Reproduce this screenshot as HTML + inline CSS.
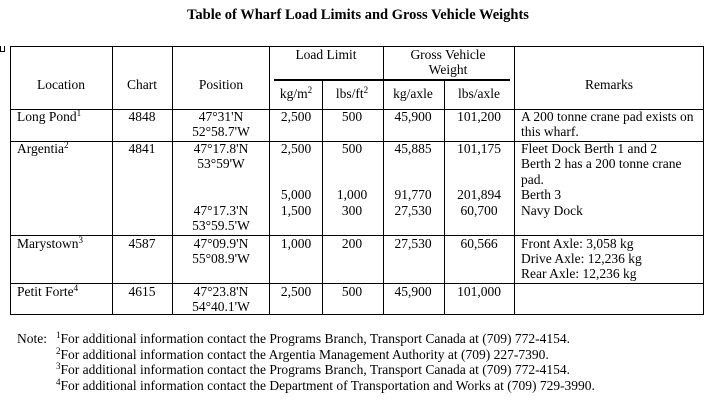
<!DOCTYPE html>
<html><head><meta charset="utf-8"><style>
body{margin:0;width:716px;height:401px;background:#fff;position:relative;overflow:hidden;font-family:"Liberation Serif",serif;font-size:13.5px;color:#000}
.t{position:absolute;line-height:16px;white-space:nowrap}
.c{transform:translateX(-50%)}
.h{position:absolute;height:1px;background:#000}
.v{position:absolute;width:1px;background:#000}
sup{font-size:9px;vertical-align:baseline;position:relative;top:-5px}
</style></head><body>
<div class="t c" style="left:358px;top:7px;font-weight:bold;font-size:14.5px">Table of Wharf Load Limits and Gross Vehicle Weights</div>
<div style="position:absolute;left:0;top:46px;width:3px;height:5px;border:1px solid #000;border-top:none"></div>
<div class="h" style="left:10px;top:46px;width:694px"></div>
<div class="h" style="left:10px;top:109px;width:694px"></div>
<div class="h" style="left:10px;top:141px;width:694px"></div>
<div class="h" style="left:10px;top:235px;width:694px"></div>
<div class="h" style="left:10px;top:283px;width:694px"></div>
<div class="h" style="left:10px;top:314px;width:694px"></div>
<div class="h" style="left:274px;top:79px;width:236px;height:2px"></div>
<div class="v" style="left:10px;top:46px;height:269px"></div>
<div class="v" style="left:112px;top:46px;height:269px"></div>
<div class="v" style="left:172px;top:46px;height:269px"></div>
<div class="v" style="left:269px;top:46px;height:269px"></div>
<div class="v" style="left:322px;top:81px;height:234px"></div>
<div class="v" style="left:383px;top:81px;height:234px"></div>
<div class="v" style="left:383px;top:46px;height:34px"></div>
<div class="v" style="left:444px;top:81px;height:234px"></div>
<div class="v" style="left:514px;top:46px;height:269px"></div>
<div class="v" style="left:703px;top:46px;height:269px"></div>
<div class="t c" style="left:61px;top:77px">Location</div>
<div class="t c" style="left:142px;top:77px">Chart</div>
<div class="t c" style="left:221px;top:77px">Position</div>
<div class="t c" style="left:326px;top:47px">Load Limit</div>
<div class="t c" style="left:448px;top:47px">Gross Vehicle</div>
<div class="t c" style="left:448px;top:62px">Weight</div>
<div class="t c" style="left:296px;top:86px">kg/m<sup>2</sup></div>
<div class="t c" style="left:352px;top:86px">lbs/ft<sup>2</sup></div>
<div class="t c" style="left:413px;top:86px">kg/axle</div>
<div class="t c" style="left:479px;top:86px">lbs/axle</div>
<div class="t c" style="left:609px;top:77px">Remarks</div>
<div class="t" style="left:17px;top:109px">Long Pond<sup>1</sup></div>
<div class="t c" style="left:142px;top:109px">4848</div>
<div class="t c" style="left:221px;top:109px">47°31'N</div>
<div class="t c" style="left:221px;top:124px">52°58.7'W</div>
<div class="t c" style="left:296px;top:109px">2,500</div>
<div class="t c" style="left:352px;top:109px">500</div>
<div class="t c" style="left:413px;top:109px">45,900</div>
<div class="t c" style="left:479px;top:109px">101,200</div>
<div class="t" style="left:521px;top:109px">A 200 tonne crane pad exists on</div>
<div class="t" style="left:521px;top:124px">this wharf.</div>
<div class="t" style="left:17px;top:141px">Argentia<sup>2</sup></div>
<div class="t c" style="left:142px;top:141px">4841</div>
<div class="t c" style="left:221px;top:141px">47°17.8'N</div>
<div class="t c" style="left:221px;top:156px">53°59'W</div>
<div class="t c" style="left:296px;top:141px">2,500</div>
<div class="t c" style="left:352px;top:141px">500</div>
<div class="t c" style="left:413px;top:141px">45,885</div>
<div class="t c" style="left:479px;top:141px">101,175</div>
<div class="t" style="left:521px;top:141px">Fleet Dock Berth 1 and 2</div>
<div class="t" style="left:521px;top:156px">Berth 2 has a 200 tonne crane</div>
<div class="t" style="left:521px;top:172px">pad.</div>
<div class="t c" style="left:296px;top:187px">5,000</div>
<div class="t c" style="left:352px;top:187px">1,000</div>
<div class="t c" style="left:413px;top:187px">91,770</div>
<div class="t c" style="left:479px;top:187px">201,894</div>
<div class="t" style="left:521px;top:187px">Berth 3</div>
<div class="t c" style="left:221px;top:203px">47°17.3'N</div>
<div class="t c" style="left:221px;top:218px">53°59.5'W</div>
<div class="t c" style="left:296px;top:203px">1,500</div>
<div class="t c" style="left:352px;top:203px">300</div>
<div class="t c" style="left:413px;top:203px">27,530</div>
<div class="t c" style="left:479px;top:203px">60,700</div>
<div class="t" style="left:521px;top:203px">Navy Dock</div>
<div class="t" style="left:17px;top:236px">Marystown<sup>3</sup></div>
<div class="t c" style="left:142px;top:236px">4587</div>
<div class="t c" style="left:221px;top:236px">47°09.9'N</div>
<div class="t c" style="left:221px;top:251px">55°08.9'W</div>
<div class="t c" style="left:296px;top:236px">1,000</div>
<div class="t c" style="left:352px;top:236px">200</div>
<div class="t c" style="left:413px;top:236px">27,530</div>
<div class="t c" style="left:479px;top:236px">60,566</div>
<div class="t" style="left:521px;top:236px">Front Axle: 3,058 kg</div>
<div class="t" style="left:521px;top:251px">Drive Axle: 12,236 kg</div>
<div class="t" style="left:521px;top:266px">Rear Axle: 12,236 kg</div>
<div class="t" style="left:17px;top:284px">Petit Forte<sup>4</sup></div>
<div class="t c" style="left:142px;top:284px">4615</div>
<div class="t c" style="left:221px;top:284px">47°23.8'N</div>
<div class="t c" style="left:221px;top:299px">54°40.1'W</div>
<div class="t c" style="left:296px;top:284px">2,500</div>
<div class="t c" style="left:352px;top:284px">500</div>
<div class="t c" style="left:413px;top:284px">45,900</div>
<div class="t c" style="left:479px;top:284px">101,000</div>
<div class="t" style="left:17px;top:331px">Note:</div>
<div class="t" style="left:56px;top:331px"><sup>1</sup>For additional information contact the Programs Branch, Transport Canada at (709) 772-4154.</div>
<div class="t" style="left:56px;top:347px"><sup>2</sup>For additional information contact the Argentia Management Authority at (709) 227-7390.</div>
<div class="t" style="left:56px;top:362px"><sup>3</sup>For additional information contact the Programs Branch, Transport Canada at (709) 772-4154.</div>
<div class="t" style="left:56px;top:378px"><sup>4</sup>For additional information contact the Department of Transportation and Works at (709) 729-3990.</div>
</body></html>
